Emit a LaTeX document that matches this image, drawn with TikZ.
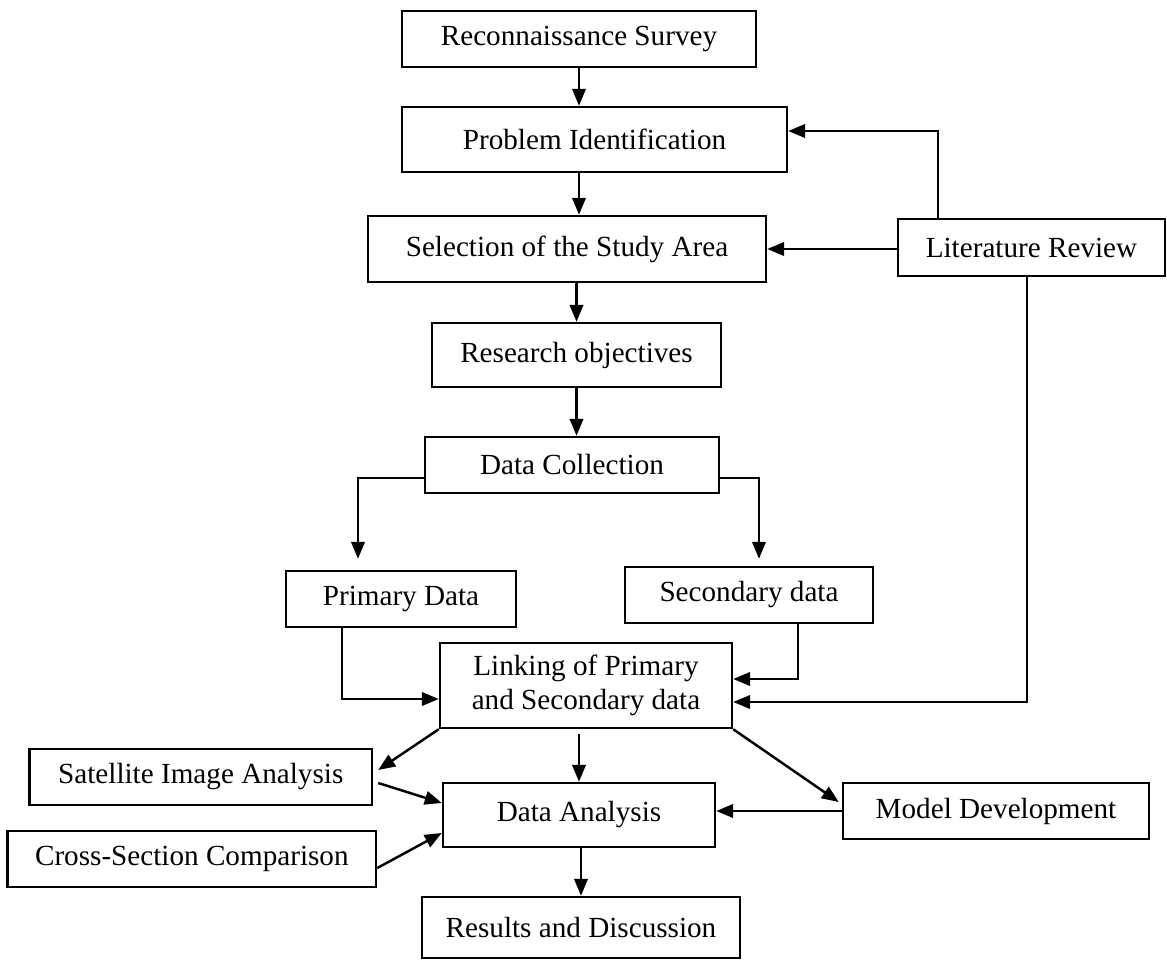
\documentclass[tikz,border=0pt]{standalone}
\usepackage{fontspec}
\setmainfont{Liberation Serif}
\usepackage{tikz}
\usetikzlibrary{arrows.meta, positioning, calc}
\tikzset{
  box/.style={draw, line width=1.4pt, align=center, inner sep=0pt, minimum height=11.2mm, font=\fontsize{16.6}{19}\selectfont},
  arrow/.style={-{Triangle[length=3.4mm, width=2.7mm]}, line width=1.4pt},
  every node/.style={font=\fontsize{16.6}{19}\selectfont}
}
\begin{document}
\begin{tikzpicture}[x=1cm,y=1cm]
    \useasboundingbox (0,0) rectangle (23.34,-19.2);
    \node[box, minimum width=70.8mm] (recon) at (11.58,-0.78) {Reconnaissance Survey};
    \node[box, minimum width=77mm, minimum height=13mm] (prob) at (11.89,-2.79) {Problem Identification};
    \node[box, minimum width=79.6mm, minimum height=13.2mm] (sel) at (11.34,-4.98) {Selection of the Study Area};
    \node[box, minimum width=57.8mm, minimum height=12.8mm] (obj) at (11.53,-7.10) {Research objectives};
    \node[box, minimum width=58.8mm] (dc) at (11.44,-9.30) {Data Collection};
    \node[box, minimum width=46mm] (prim) at (8.02,-11.98) {Primary Data};
    \node[box, minimum width=49.6mm] (sec) at (14.98,-11.90) {Secondary data};
    \node[box, minimum width=58.4mm, minimum height=17mm] (link) at (11.72,-13.71) {Linking of Primary\\and Secondary data};
    \node[box, minimum width=53.4mm, minimum height=11.4mm] (lit) at (20.63,-4.95) {Literature Review};
    \node[box, minimum width=68.5mm] (sat) at (4.015,-15.54) {Satellite Image Analysis};
    \node[box, minimum width=73.7mm] (cross) at (3.837,-17.18) {Cross-Section Comparison};
    \node[box, minimum width=54.4mm, minimum height=12.8mm] (da) at (11.58,-16.30) {Data Analysis};
    \node[box, minimum width=61.2mm] (model) at (19.92,-16.22) {Model Development};
    \node[box, minimum width=63.6mm, minimum height=12.2mm] (res) at (11.62,-18.55) {Results and Discussion};

    \draw[arrow] (recon.south) -- (recon.south |- prob.north);
    \draw[arrow] (recon.south |- prob.south) -- (recon.south |- sel.north);
    \draw[arrow] (obj.north |- sel.south) -- (obj.north);
    \draw[arrow] (obj.south) -- (obj.south |- dc.north);
    \draw[arrow, shorten >=0.22cm] ([yshift=-0.26cm]dc.west) -| ([xshift=-0.86cm]prim.north);
    \draw[arrow, shorten >=0.14cm] ([yshift=-0.26cm]dc.east) -| ([xshift=0.2cm]sec.north);
    \draw[arrow] ([xshift=-1.18cm]prim.south) |- ([yshift=-0.27cm]link.west);
    \draw[arrow] ([xshift=0.98cm]sec.south) |- ([yshift=0.13cm]link.east);
    \draw[arrow] ([xshift=-1.87cm]lit.north) |- ([yshift=0.17cm]prob.east);
    \draw[arrow] (lit.west |- sel.east) -- (sel.east);
    \draw[arrow] ([xshift=-0.09cm]lit.south) |- ([yshift=-0.33cm]link.east);
    \draw[arrow] (link.south west) -- ([xshift=0.1cm, yshift=0.14cm]sat.east);
    \draw[arrow] ([xshift=0.1cm, yshift=-0.12cm]sat.east) -- ([yshift=0.24cm]da.west);
    \draw[arrow] ([yshift=-0.18cm]cross.east) -- ([yshift=-0.36cm]da.west);
    \draw[arrow, shorten <=0.1cm] (da.north |- link.south) -- (da.north);
    \draw[arrow] (link.south east) -- ([xshift=-0.06cm, yshift=0.18cm]model.west);
    \draw[arrow] (model.west) -- (model.west -| da.east);
    \draw[arrow] (res.north |- da.south) -- (res.north);
\end{tikzpicture}
\end{document}
